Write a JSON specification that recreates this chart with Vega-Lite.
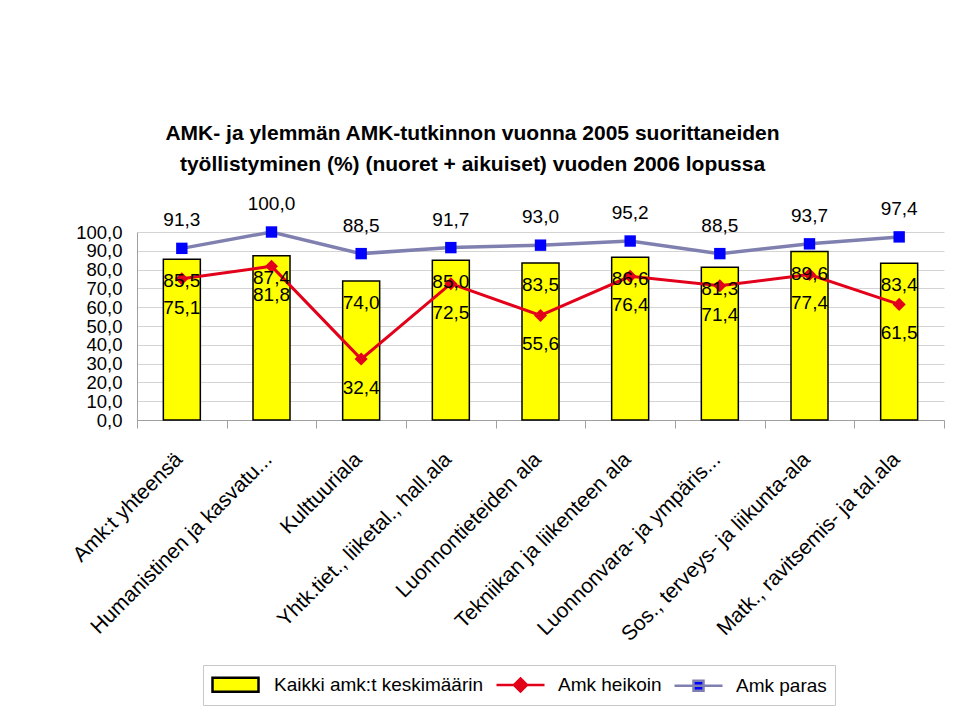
{
  "$schema": "https://vega.github.io/schema/vega-lite/v6.json",
  "width": 807,
  "height": 188,
  "autosize": {"type": "none"},
  "padding": {"left": 137, "top": 232, "right": 15, "bottom": 291},
  "background": "white",
  "title": {
    "text": ["AMK- ja ylemmän AMK-tutkinnon vuonna  2005 suorittaneiden", "työllistyminen (%) (nuoret + aikuiset) vuoden 2006 lopussa"],
    "font": "Liberation Sans",
    "fontSize": 21,
    "fontWeight": "bold",
    "color": "black",
    "anchor": "middle",
    "frame": "group",
    "dx": -68,
    "offset": 20,
    "lineHeight": 31
  },
  "data": {
    "values": [
      {"cat": "Amk:t yhteensä", "avg": 85.5, "low": 75.1, "best": 91.3},
      {"cat": "Humanistinen ja kasvatu...", "avg": 87.4, "low": 81.8, "best": 100.0},
      {"cat": "Kulttuuriala", "avg": 74.0, "low": 32.4, "best": 88.5},
      {"cat": "Yhtk.tiet., liiketal., hall.ala", "avg": 85.0, "low": 72.5, "best": 91.7},
      {"cat": "Luonnontieteiden ala", "avg": 83.5, "low": 55.6, "best": 93.0},
      {"cat": "Tekniikan ja liikenteen ala", "avg": 86.6, "low": 76.4, "best": 95.2},
      {"cat": "Luonnonvara- ja ympäris...", "avg": 81.3, "low": 71.4, "best": 88.5},
      {"cat": "Sos., terveys- ja liikunta-ala", "avg": 89.6, "low": 77.4, "best": 93.7},
      {"cat": "Matk., ravitsemis- ja tal.ala", "avg": 83.4, "low": 61.5, "best": 97.4}
    ]
  },
  "encoding": {
    "x": {
      "field": "cat",
      "type": "nominal",
      "sort": null,
      "scale": {"paddingInner": 0, "paddingOuter": 0},
      "axis": {
        "title": null,
        "labelAngle": -45,
        "labelAlign": "right",
        "labelBaseline": "middle",
        "labelFontSize": 21,
        "labelLimit": 400,
        "labelPadding": 28,
        "labelOffset": -3,
        "labelOverlap": false,
        "tickBand": "extent",
        "tickSize": 8,
        "grid": false
      }
    }
  },
  "layer": [
    {
      "mark": {"type": "bar", "size": 37, "strokeWidth": 1.5},
      "encoding": {
        "y": {
          "field": "avg", "type": "quantitative", "title": null,
          "scale": {"domain": [0, 100]},
          "axis": {"values": [0, 10, 20, 30, 40, 50, 60, 70, 80, 90, 100], "format": ".1f", "grid": true, "ticks": false, "labelPadding": 15, "labelFontSize": 18.5, "labelOverlap": false, "tickCount": 11}
        },
        "fill": {
          "datum": "Kaikki amk:t keskimäärin",
          "scale": {
            "domain": ["Kaikki amk:t keskimäärin", "Amk heikoin", "Amk paras"],
            "range": ["#FFFF00", "#E2001A", "#0000FF"]
          },
          "legend": {
            "orient": "none", "legendX": 66, "legendY": 433, "direction": "horizontal", "title": null,
            "labelFont": "Liberation Sans", "labelFontSize": 19, "labelColor": "black", "labelLimit": 400,
            "labelOffset": 40, "columnPadding": 7, "symbolSize": 400, "symbolStrokeWidth": 2.5,
            "symbolOpacity": 1, "strokeColor": "#C8C8C8", "padding": 8
          }
        },
        "stroke": {
          "datum": "Kaikki amk:t keskimäärin",
          "scale": {
            "domain": ["Kaikki amk:t keskimäärin", "Amk heikoin", "Amk paras"],
            "range": ["#000000", "#E2001A", "#8080B0"]
          }
        }
      }
    },
    {
      "mark": {"type": "line", "strokeWidth": 3.5},
      "encoding": {
        "y": {
          "field": "best", "type": "quantitative", "title": null,
          "axis": {"values": [0, 10, 20, 30, 40, 50, 60, 70, 80, 90, 100], "format": ".1f", "grid": true, "ticks": false, "labelPadding": 15, "labelFontSize": 18.5, "labelOverlap": false, "tickCount": 11}
        },
        "stroke": {"datum": "Amk paras"}
      }
    },
    {
      "mark": {"type": "point", "shape": "square", "filled": true, "size": 130, "opacity": 1},
      "encoding": {
        "y": {
          "field": "best", "type": "quantitative", "title": null,
          "axis": {"values": [0, 10, 20, 30, 40, 50, 60, 70, 80, 90, 100], "format": ".1f", "grid": true, "ticks": false, "labelPadding": 15, "labelFontSize": 18.5, "labelOverlap": false, "tickCount": 11}
        },
        "fill": {"datum": "Amk paras"}
      }
    },
    {
      "mark": {"type": "line", "strokeWidth": 3},
      "encoding": {
        "y": {
          "field": "low", "type": "quantitative", "title": null,
          "axis": {"values": [0, 10, 20, 30, 40, 50, 60, 70, 80, 90, 100], "format": ".1f", "grid": true, "ticks": false, "labelPadding": 15, "labelFontSize": 18.5, "labelOverlap": false, "tickCount": 11}
        },
        "stroke": {"datum": "Amk heikoin"}
      }
    },
    {
      "mark": {"type": "point", "shape": "diamond", "filled": true, "size": 170, "opacity": 1},
      "encoding": {
        "y": {
          "field": "low", "type": "quantitative", "title": null,
          "axis": {"values": [0, 10, 20, 30, 40, 50, 60, 70, 80, 90, 100], "format": ".1f", "grid": true, "ticks": false, "labelPadding": 15, "labelFontSize": 18.5, "labelOverlap": false, "tickCount": 11}
        },
        "fill": {"datum": "Amk heikoin"}
      }
    },
    {
      "transform": [{"filter": "false"}],
      "mark": {"type": "point", "filled": true, "opacity": 1},
      "encoding": {
        "y": {
          "field": "low", "type": "quantitative", "title": null,
          "axis": {"values": [0, 10, 20, 30, 40, 50, 60, 70, 80, 90, 100], "format": ".1f", "grid": true, "ticks": false, "labelPadding": 15, "labelFontSize": 18.5, "labelOverlap": false, "tickCount": 11}
        },
        "shape": {
          "datum": "Amk heikoin",
          "scale": {
            "domain": ["Kaikki amk:t keskimäärin", "Amk heikoin", "Amk paras"],
            "range": [
              "M-1,-0.7H3.6V0.7H-1Z",
              "M-1,0H3.8M1.4,-0.65L2.05,0L1.4,0.65L0.75,0Z",
              "M-1,0H3.8M0.9,-0.5H1.9V0.5H0.9Z"
            ]
          },
          "legend": {
            "orient": "none", "legendX": 66, "legendY": 433, "direction": "horizontal", "title": null,
            "labelFont": "Liberation Sans", "labelFontSize": 19, "labelColor": "black", "labelLimit": 400,
            "labelOffset": 40, "columnPadding": 7, "symbolSize": 400, "symbolStrokeWidth": 2.5,
            "symbolOpacity": 1, "strokeColor": "#C8C8C8", "padding": 8
          }
        }
      }
    },
    {
      "mark": {"type": "text", "dy": -28, "fontSize": 19, "font": "Liberation Sans", "color": "black"},
      "encoding": {
        "y": {
          "field": "best", "type": "quantitative", "title": null,
          "axis": {"values": [0, 10, 20, 30, 40, 50, 60, 70, 80, 90, 100], "format": ".1f", "grid": true, "ticks": false, "labelPadding": 15, "labelFontSize": 18.5, "labelOverlap": false, "tickCount": 11}
        },
        "text": {"field": "best", "type": "quantitative", "format": ".1f"}
      }
    },
    {
      "mark": {"type": "text", "dy": 22, "fontSize": 19, "font": "Liberation Sans", "color": "black"},
      "encoding": {
        "y": {
          "field": "avg", "type": "quantitative", "title": null,
          "axis": {"values": [0, 10, 20, 30, 40, 50, 60, 70, 80, 90, 100], "format": ".1f", "grid": true, "ticks": false, "labelPadding": 15, "labelFontSize": 18.5, "labelOverlap": false, "tickCount": 11}
        },
        "text": {"field": "avg", "type": "quantitative", "format": ".1f"}
      }
    },
    {
      "mark": {"type": "text", "dy": 29, "fontSize": 19, "font": "Liberation Sans", "color": "black"},
      "encoding": {
        "y": {
          "field": "low", "type": "quantitative", "title": null,
          "axis": {"values": [0, 10, 20, 30, 40, 50, 60, 70, 80, 90, 100], "format": ".1f", "grid": true, "ticks": false, "labelPadding": 15, "labelFontSize": 18.5, "labelOverlap": false, "tickCount": 11}
        },
        "text": {"field": "low", "type": "quantitative", "format": ".1f"}
      }
    }
  ],
  "config": {
    "font": "Liberation Sans",
    "view": {"stroke": null},
    "axis": {
      "labelFont": "Liberation Sans",
      "labelColor": "black",
      "domainColor": "#A0A0A0",
      "tickColor": "#A0A0A0",
      "gridColor": "#D4D4D4",
      "gridWidth": 1
    },
    "axisY": {"labelOverlap": false},
    "locale": {
      "number": {"decimal": ",", "thousands": " ", "grouping": [3], "currency": ["", " €"]}
    }
  }
}
